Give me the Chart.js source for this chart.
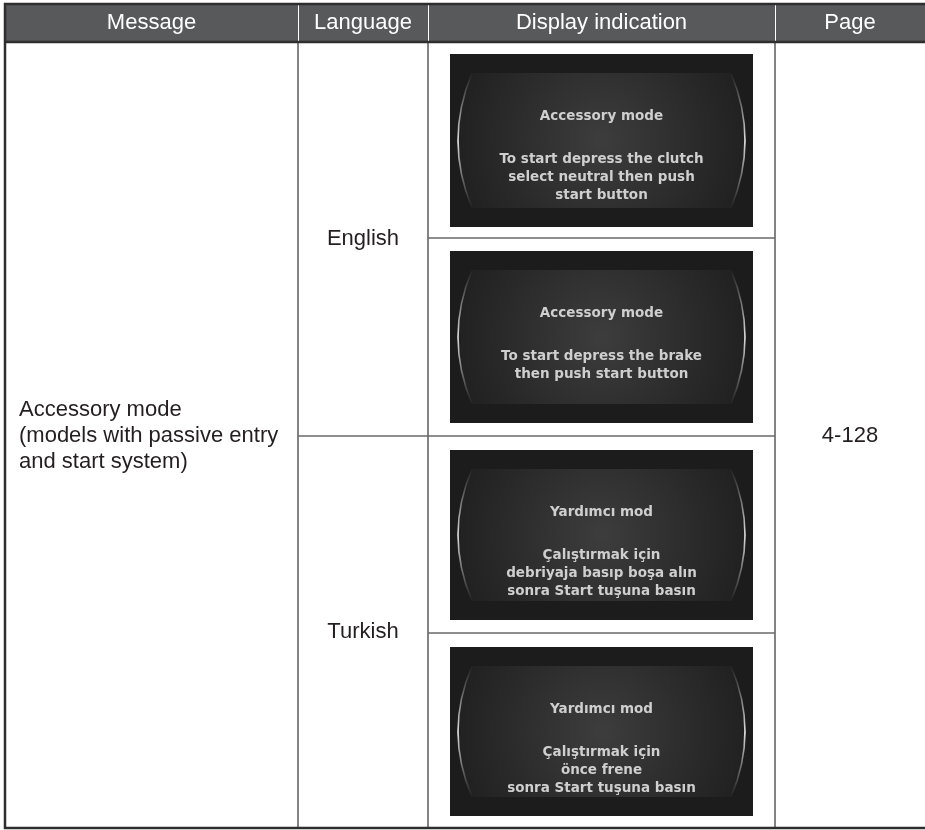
<!DOCTYPE html>
<html>
<head>
<meta charset="utf-8">
<script src="https://cdn.jsdelivr.net/npm/chart.js@4"></script>
<style>
  html, body { margin: 0; padding: 0; background: #ffffff; }
  canvas { display: block; }
</style>
</head>
<body>
<canvas id="tabella" width="925" height="830"></canvas>
<script>
// contenuto della tabella
const colonne = ["Message", "Language", "Display indication", "Page"];
const messaggio = ["Accessory mode", "(models with passive entry", "and start system)"];
const lingue = ["English", "Turkish"];
const titoliDisplay = ["Accessory mode", "Accessory mode", "Yardımcı mod", "Yardımcı mod"];
const righeDisplay = [
  ["To start depress the clutch", "select neutral then push", "start button"],
  ["To start depress the brake", "then push start button"],
  ["Çalıştırmak için", "debriyaja basıp boşa alın", "sonra Start tuşuna basın"],
  ["Çalıştırmak için", "önce frene", "sonra Start tuşuna basın"]
];
const pagina = "4-128";

// layout (unità della scala = pixel del riferimento)
const bordiColonne = [5, 298, 428, 775, 925];
const testata = [4, 42];
const fondo = 828;
const bordiRighe = [42, 238, 436, 633, 828];
const pannelli = [[54, 227], [251, 423], [450, 620], [647, 816]];
const pannelloX = [450, 753];

const FONT = '"Liberation Sans", Arial, sans-serif';

function disegnaPannello(ctx, sx, sy, i) {
  let x0 = sx(pannelloX[0]), x1 = sx(pannelloX[1]);
  let y0 = sy(pannelli[i][0]), y1 = sy(pannelli[i][1]);
  let w = x1 - x0, h = y1 - y0;
  let cx = (x0 + x1) / 2, cy = (y0 + y1) / 2;

  ctx.save();
  ctx.fillStyle = "#1c1c1c";
  ctx.fillRect(x0, y0, w, h);

  let g = ctx.createRadialGradient(cx, cy, 5, cx, cy, w * 0.55);
  g.addColorStop(0, "#3c3c3c");
  g.addColorStop(0.6, "#292929");
  g.addColorStop(1, "#1d1d1d");
  ctx.fillStyle = g;
  ctx.beginPath();
  ctx.moveTo(x0 + 22, y0 + 19);
  ctx.lineTo(x1 - 22, y0 + 19);
  ctx.quadraticCurveTo(x1 + 4, cy, x1 - 22, y1 - 19);
  ctx.lineTo(x0 + 22, y1 - 19);
  ctx.quadraticCurveTo(x0 - 4, cy, x0 + 22, y0 + 19);
  ctx.fill();

  // parentesi laterali
  let lg = ctx.createLinearGradient(0, y0 + 18, 0, y1 - 18);
  lg.addColorStop(0, "rgba(200,200,200,0)");
  lg.addColorStop(0.5, "rgba(235,235,235,0.95)");
  lg.addColorStop(1, "rgba(200,200,200,0)");
  ctx.strokeStyle = lg;
  ctx.lineWidth = 1.6;
  ctx.beginPath();
  ctx.moveTo(x0 + 22, y0 + 19);
  ctx.quadraticCurveTo(x0 - 6, cy, x0 + 22, y1 - 19);
  ctx.stroke();
  ctx.beginPath();
  ctx.moveTo(x1 - 22, y0 + 19);
  ctx.quadraticCurveTo(x1 + 6, cy, x1 - 22, y1 - 19);
  ctx.stroke();

  // testo del display
  ctx.fillStyle = "#cfcfcf";
  ctx.textAlign = "center";
  ctx.textBaseline = "middle";
  ctx.font = 'bold 13.5px "DejaVu Sans", sans-serif';
  ctx.fillText(titoliDisplay[i], cx, y0 + 62);
  righeDisplay[i].forEach(function (r, k) {
    ctx.fillText(r, cx, y0 + 105 + k * 18);
  });
  ctx.restore();
}

const pluginTabella = {
  id: "tabella",
  afterDraw(chart) {
    let ctx = chart.ctx;
    let sx = v => chart.scales.x.getPixelForValue(v);
    let sy = v => chart.scales.y.getPixelForValue(v);

    ctx.save();
    // testata
    ctx.fillStyle = "#58595b";
    ctx.fillRect(sx(bordiColonne[0]), sy(testata[0]), sx(925) - sx(bordiColonne[0]), sy(testata[1]) - sy(testata[0]));
    ctx.strokeStyle = "#ffffff";
    ctx.lineWidth = 1;
    for (let k = 1; k < bordiColonne.length - 1; k++) {
      ctx.beginPath();
      ctx.moveTo(sx(bordiColonne[k]) + 0.5, sy(testata[0]));
      ctx.lineTo(sx(bordiColonne[k]) + 0.5, sy(testata[1]));
      ctx.stroke();
    }
    ctx.fillStyle = "#ffffff";
    ctx.font = "22px " + FONT;
    ctx.textAlign = "center";
    ctx.textBaseline = "middle";
    colonne.forEach(function (c, k) {
      ctx.fillText(c, (sx(bordiColonne[k]) + sx(bordiColonne[k + 1])) / 2, sy(23));
    });

    // linee interne
    ctx.strokeStyle = "#5a5a5a";
    ctx.lineWidth = 1.5;
    [1, 2, 3].forEach(function (k) {
      ctx.beginPath();
      ctx.moveTo(sx(bordiColonne[k]), sy(testata[1]));
      ctx.lineTo(sx(bordiColonne[k]), sy(fondo));
      ctx.stroke();
    });
    ctx.strokeStyle = "#6a6a6a";
    ctx.lineWidth = 1.3;
    [[1, 2, 3], [2, 1, 3], [3, 2, 3]].forEach(function (r) {
      ctx.beginPath();
      ctx.moveTo(sx(bordiColonne[r[1]]), sy(bordiRighe[r[0]]));
      ctx.lineTo(sx(bordiColonne[r[2]]), sy(bordiRighe[r[0]]));
      ctx.stroke();
    });

    // bordi esterni
    ctx.strokeStyle = "#2e2e2e";
    ctx.lineWidth = 2.5;
    ctx.beginPath();
    ctx.moveTo(sx(930), sy(testata[0]));
    ctx.lineTo(sx(bordiColonne[0]), sy(testata[0]));
    ctx.lineTo(sx(bordiColonne[0]), sy(fondo));
    ctx.lineTo(sx(930), sy(fondo));
    ctx.stroke();
    ctx.beginPath();
    ctx.moveTo(sx(bordiColonne[0]), sy(testata[1]));
    ctx.lineTo(sx(930), sy(testata[1]));
    ctx.stroke();

    // testo celle
    ctx.fillStyle = "#231f20";
    ctx.font = "22px " + FONT;
    ctx.textAlign = "left";
    messaggio.forEach(function (r, k) {
      ctx.fillText(r, sx(19), sy(410 + k * 26));
    });
    ctx.textAlign = "center";
    lingue.forEach(function (l, k) {
      let yc = (bordiRighe[k * 2] + bordiRighe[k * 2 + 2]) / 2;
      ctx.fillText(l, (sx(bordiColonne[1]) + sx(bordiColonne[2])) / 2, sy(yc));
    });
    ctx.fillText(pagina, (sx(bordiColonne[3]) + sx(bordiColonne[4])) / 2, sy(436));
    ctx.restore();

    for (let i = 0; i < pannelli.length; i++) disegnaPannello(ctx, sx, sy, i);
  }
};

new Chart(document.getElementById("tabella").getContext("2d"), {
  type: "scatter",
  data: { datasets: [{ data: [] }] },
  options: {
    responsive: false,
    animation: false,
    layout: { padding: 0 },
    plugins: { legend: { display: false }, tooltip: { enabled: false } },
    scales: {
      x: { type: "linear", min: 0, max: 925, display: false },
      y: { type: "linear", min: 0, max: 830, reverse: true, display: false }
    }
  },
  plugins: [pluginTabella]
});
</script>
</body>
</html>
